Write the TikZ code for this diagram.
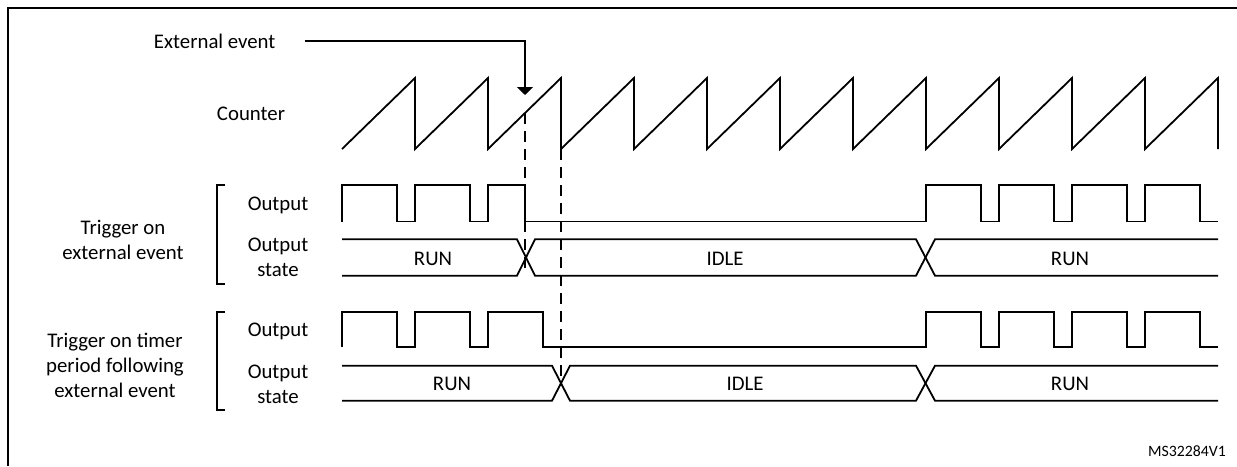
\documentclass[tikz,border=0pt]{standalone}
\usepackage{fontspec}
\setmainfont{Carlito}
\usetikzlibrary{arrows.meta}
\begin{document}
\begin{tikzpicture}[x=1pt,y=-1pt,
  sig/.style={line width=1.8pt},
  frm/.style={line width=2.8pt},
  dsh/.style={line width=1.8pt, dash pattern=on 11pt off 7pt},
  lbl/.style={font=\fontsize{20.8}{25}\selectfont, inner sep=0pt, align=center},
  tag/.style={font=\fontsize{15.8}{18}\selectfont, inner sep=0pt}]
\useasboundingbox (0,0) rectangle (1237,466);
% frame
\draw[frm] (8,466) -- (8,8) -- (1237,8);
% labels
\node[lbl, anchor=base] (ext) at (214.7,48) {External event};
\node[lbl, anchor=base] (cnt) at (251,120) {Counter};
\node[lbl] (g1) at (123,240) {Trigger on\\external event};
\node[lbl] (g2) at (115,365) {Trigger on timer\\period following\\external event};
\node[lbl, anchor=base] (o1) at (278,210) {Output};
\node[lbl] (s1) at (278,257.7) {Output\\state};
\node[lbl, anchor=base] (o2) at (278,336.7) {Output};
\node[lbl] (s2) at (278,384) {Output\\state};
\node[lbl, anchor=base] (r1a) at (433,265) {RUN};
\node[lbl, anchor=base] (i1) at (725,265) {IDLE};
\node[lbl, anchor=base] (r1b) at (1070,265) {RUN};
\node[lbl, anchor=base] (r2a) at (452,390) {RUN};
\node[lbl, anchor=base] (i2) at (745,390) {IDLE};
\node[lbl, anchor=base] (r2b) at (1070,390) {RUN};
\node[tag, anchor=base] (id) at (1187,456.7) {MS32284V1};
% external event arrow
\coordinate (evt) at (525,95);
\draw[sig, -{Triangle[width=16pt,length=8pt]}] ([xshift=29pt]ext.east) -| (evt);
% counter sawtooth
\draw[sig] (342,149) foreach \k in {1,...,12} { -- ({342+73*\k},78) -- ({342+73*\k},149) };
% dashed markers
\coordinate (d1a) at (525,113);
\coordinate (d1b) at (525,270);
\coordinate (d2a) at (561,149);
\coordinate (d2b) at (561,386);
\draw[dsh] (d1a) -- (d1b);
\draw[dsh] (d2a) -- (d2b);
% brackets
\draw[sig] (225,185) -- (217,185) -- (217,284) -- (225,284);
\draw[sig] (225,312) -- (217,312) -- (217,410) -- (225,410);
% output 1
\draw[sig] (342,221.5) |- (397,185) |- (415,221.5) |- (470,185) |- (488,221.5) |- (525,185)
  |- (926,221.5) |- (981,185) |- (999,221.5) |- (1054,185) |- (1072,221.5) |- (1127,185)
  |- (1145,221.5) |- (1200,185) |- (1218,221.5);
% state 1
\draw[sig] (342,239.3) -- (517,239.3) -- (535,275.7) -- (916,275.7) -- (935,239.3) -- (1218,239.3);
\draw[sig] (342,275.7) -- (517,275.7) -- (535,239.3) -- (916,239.3) -- (935,275.7) -- (1218,275.7);
% output 2
\draw[sig] (342,347.3) |- (397,311.7) |- (415,347.3) |- (470,311.7) |- (488,347.3) |- (543,311.7)
  |- (926,347.3) |- (981,311.7) |- (999,347.3) |- (1054,311.7) |- (1072,347.3) |- (1127,311.7)
  |- (1145,347.3) |- (1200,311.7) |- (1218,347.3);
% state 2
\draw[sig] (342,365.7) -- (552,365.7) -- (570,400.7) -- (916,400.7) -- (935,365.7) -- (1218,365.7);
\draw[sig] (342,400.7) -- (552,400.7) -- (570,365.7) -- (916,365.7) -- (935,400.7) -- (1218,400.7);
\end{tikzpicture}
\end{document}
